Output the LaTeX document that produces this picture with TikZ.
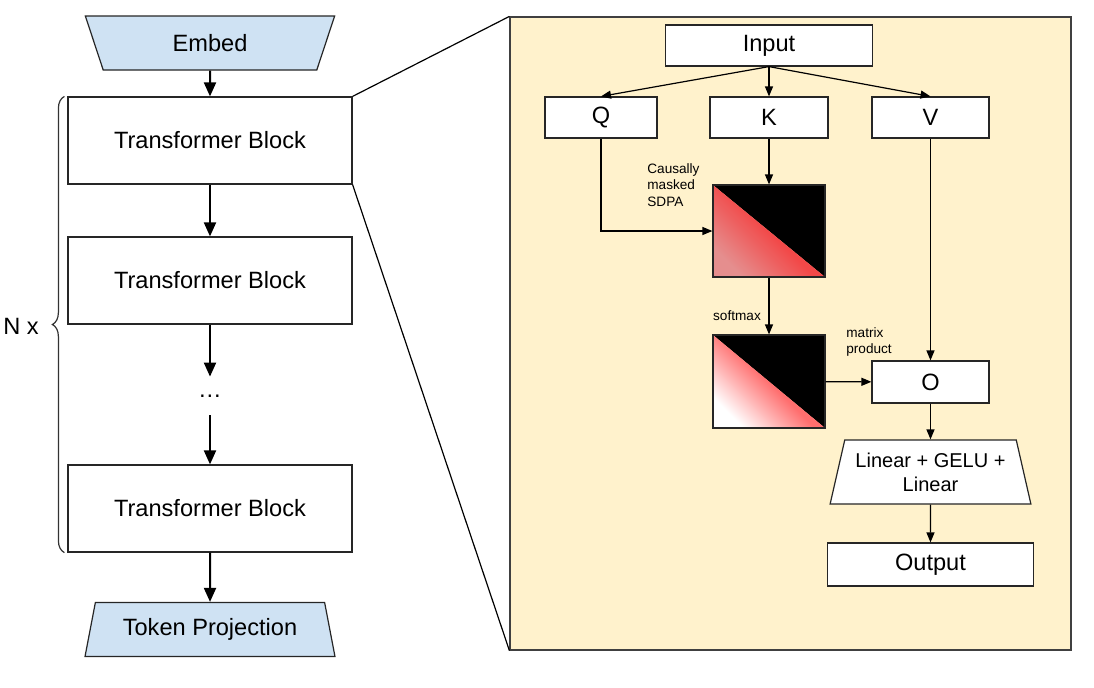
\documentclass[tikz,border=0pt]{standalone}
\usepackage{fontspec}
\setmainfont{Liberation Sans}
\usetikzlibrary{shapes.geometric,arrows.meta,decorations.pathreplacing}
\definecolor{embedblue}{HTML}{CFE2F3}
\definecolor{panelyellow}{HTML}{FFF2CC}
\definecolor{maskred}{HTML}{F24848}
\definecolor{maskpale}{HTML}{E58E8E}
\definecolor{softred}{HTML}{FF6E6E}

\tikzset{mask/.style 2 args={rectangle,draw=black!85,line width=0.6pt,
    minimum width=56pt,minimum height=46pt,inner sep=0pt,
    path picture={
      \fill[black] (path picture bounding box.north west) -- (path picture bounding box.north east)
                   -- (path picture bounding box.south east) -- cycle;
      \shade[bottom color=#1,top color=#2,middle color=#2,shading angle=-45]
                   (path picture bounding box.north west) -- (path picture bounding box.south east)
                   -- (path picture bounding box.south west) -- cycle;}}}

\begin{document}
\begin{tikzpicture}[x=0.5pt,y=-0.5pt]
  \useasboundingbox (0,0) rectangle (1094,687);
  \tikzstyle{every node}=[font=\fontsize{11.8}{14}\selectfont]
  \tikzstyle{box}=[rectangle,draw=black!85,line width=0.6pt,fill=white,inner sep=0pt]
  \tikzstyle{io}=[trapezium,draw=black!85,line width=0.6pt,trapezium stretches=true,
                  trapezium left angle=76.5,trapezium right angle=76.5,
                  minimum width=125pt,minimum height=27pt,fill=embedblue]
  \tikzstyle{small}=[font=\fontsize{6.8}{8.4}\selectfont,align=left,inner sep=0pt]
  \tikzstyle{bigarrow}=[-{Triangle[length=7pt,width=6pt]},line width=1pt]
  \tikzstyle{arrow}=[-{Triangle[length=5pt,width=4pt]},line width=0.6pt]

%% zoomed-in panel
  \node[rectangle,draw=black!75,line width=0.6pt,fill=panelyellow,
        minimum width=280.5pt,minimum height=316.5pt] (panel) at (790.5,333.5) {};

%% left column
  \node[io,shape border rotate=180] (embed) at (210,43) {Embed};
  \foreach \n/\y in {1/140.5, 2/280.5, n/508.5}
    \node[box,minimum width=142pt,minimum height=43.5pt] (TB-\n) at (210,\y) {Transformer Block};
  \node[inner sep=0pt,minimum height=19pt] (dots) at (210,396) {…};
  \node[io] (tokproj) at (210,629.5) {Token Projection};

  \draw[bigarrow] (embed) -- (TB-1);
  \draw[bigarrow] (TB-1) -- (TB-2);
  \draw[bigarrow] (TB-2) -- (dots);
  \draw[bigarrow] (dots) -- (TB-n);
  \draw[bigarrow] (TB-n) -- (tokproj);

  \draw[decorate,decoration={brace,amplitude=6pt},line width=0.6pt,draw=black!80]
    ([xshift=-1.5pt]TB-n.south west) -- ([xshift=-1.5pt]TB-1.north west);
  \node (Nx) at (21,326) {N x};

  \draw[line width=0.6pt] (TB-1.north east) -- (panel.north west);
  \draw[line width=0.6pt] (TB-1.south east) -- (panel.south west);

%% attention block
  \node[box,minimum width=103.5pt,minimum height=20.5pt] (input) at (769,45.5) {Input};
  \node[box,minimum width=56pt,minimum height=20.5pt]    (Q) at (601,117.5) {Q};
  \node[box,minimum width=59pt,minimum height=20.5pt]    (K) at (769,117.5) {K};
  \node[box,minimum width=58.5pt,minimum height=20.5pt]  (V) at (930.5,117.5) {V};
  \node[mask={maskpale}{maskred}] (sdpa) at (769,231) {};
  \node[mask={white}{softred},minimum height=46.5pt] (softmax) at (769,381.5) {};
  \node[box,minimum width=58.5pt,minimum height=21pt] (O) at (930.5,382) {O};
  \node[io,fill=white,trapezium left angle=75,trapezium right angle=75,
        minimum width=101pt,minimum height=32pt,align=center,
        font=\fontsize{10}{12}\selectfont] (ffn) at (930.5,472) {Linear + GELU +\\Linear};
  \node[box,minimum width=103pt,minimum height=21.5pt] (output) at (930.5,564.5) {Output};

  \node[small,anchor=west] (lbl-sdpa)    at (647,185) {Causally\\masked\\SDPA};
  \node[small]             (lbl-softmax) at (737,316) {softmax};
  \node[small,anchor=west] (lbl-matmul)  at (846,342) {matrix\\product};

  \foreach \dst in {Q,K,V}
    \draw[arrow] (input.south) -- (\dst.north);
  \draw[arrow] (Q.south) |- (sdpa.west);
  \draw[arrow] (K) -- (sdpa);
  \draw[arrow] (sdpa) -- (softmax);
  \draw[arrow] (softmax) -- (O);
  \draw[arrow] (V) -- (O);
  \draw[arrow] (O) -- (ffn);
  \draw[arrow] (ffn) -- (output);
\end{tikzpicture}
\end{document}
